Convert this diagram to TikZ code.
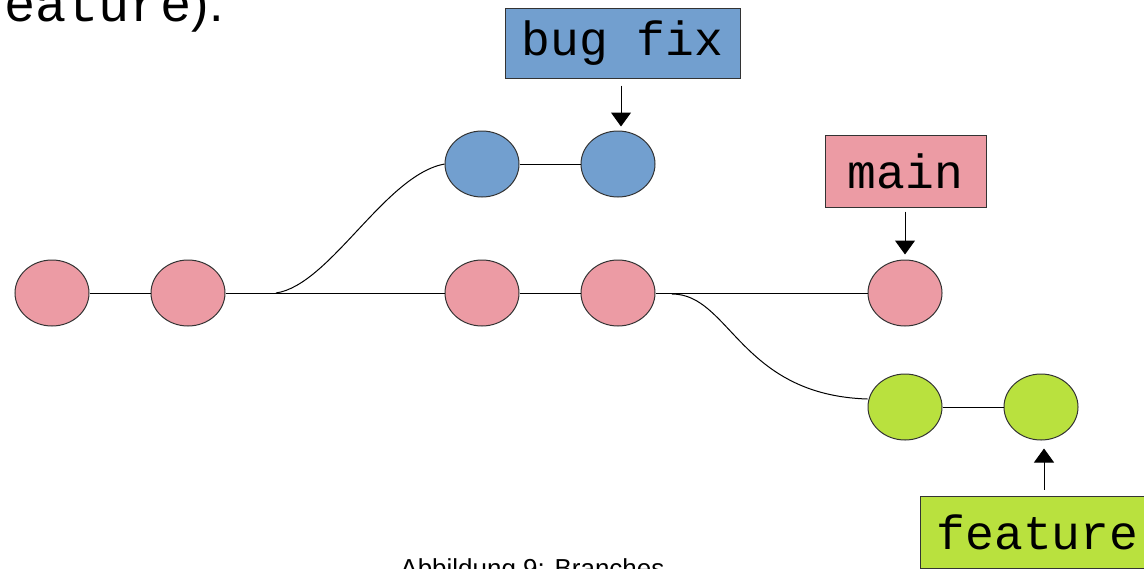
\documentclass[tikz,border=0pt]{standalone}
\usepackage{fontspec}
\setmainfont{Liberation Sans}
\setmonofont{Liberation Mono}
\usetikzlibrary{shapes.geometric,arrows.meta}
\definecolor{cpink}{RGB}{236,155,164}
\definecolor{cblue}{RGB}{114,159,207}
\definecolor{cgreen}{RGB}{185,225,62}
\definecolor{cedge}{RGB}{51,51,51}
\begin{document}
\begin{tikzpicture}[x=0.5pt,y=-0.5pt,
  commit/.style={ellipse,draw=cedge,line width=0.5pt,minimum width=37pt,minimum height=33pt,inner sep=0pt},
  label box/.style={rectangle,draw=cedge,line width=0.5pt,inner sep=0pt,font=\ttfamily\fontsize{24}{28}\selectfont},
  link/.style={draw=black,line width=0.5pt},
  pointer/.style={draw=black,line width=0.5pt,-{Triangle[width=10pt,length=7pt]}}]
\useasboundingbox (0,0) rectangle (1144,568);
\clip (0,0) rectangle (1144,568);
% commits
\node[commit,fill=cpink] (R1) at (52,293) {};
\node[commit,fill=cpink] (R2) at (188,293) {};
\node[commit,fill=cpink] (R3) at (482,293) {};
\node[commit,fill=cpink] (R4) at (618,293) {};
\node[commit,fill=cpink] (R5) at (905,293) {};
\node[commit,fill=cblue] (B1) at (482,164) {};
\node[commit,fill=cblue] (B2) at (618,164) {};
\node[commit,fill=cgreen] (G1) at (905,407) {};
\node[commit,fill=cgreen] (G2) at (1041,407) {};
% branch points
\coordinate (fork1) at (276,293);
\coordinate (fork2) at (672,294);
% links
\draw[link] (R1) -- (R2);
\draw[link] (R2) -- (R3);
\draw[link] (R3) -- (R4);
\draw[link] (R4) -- (R5);
\draw[link] (B1) -- (B2);
\draw[link] (G1) -- (G2);
\draw[link] (fork1) .. controls (330,285) and (385,175) .. (B1.west);
\draw[link] (fork2) .. controls (730,294) and (740,395) .. ([yshift=4]G1.west);
% labels
\node[label box,fill=cblue,minimum width=117.5pt,minimum height=35pt] (bugfix) at (622.5,43) {bug fix};
\node[label box,fill=cpink,minimum width=80.5pt,minimum height=36pt] (main) at (905.5,171) {main};
\node[label box,fill=cgreen,minimum width=117.5pt,minimum height=36pt] (feature) at (1037.5,532) {feature};
\draw[pointer,shorten <=3.5pt,shorten >=2pt] ([xshift=1.5pt]B2.north |- bugfix.south) -- ([xshift=1.5pt]B2.north);
\draw[pointer,shorten <=2pt,shorten >=2.5pt] (R5.north |- main.south) -- (R5.north);
\draw[pointer,shorten <=3pt,shorten >=4pt] ([xshift=1.5pt]G2.south |- feature.north) -- ([xshift=1.5pt]G2.south);
% text
\node[anchor=base west,inner sep=0pt,font=\fontsize{26}{30}\selectfont] (toptext) at (-27,21) {\ttfamily feature\rmfamily).};
\node[anchor=base west,inner sep=0pt,font=\fontsize{13}{15}\selectfont] (caption) at (400,577) {Abbildung 9: Branches};
\end{tikzpicture}
\end{document}
